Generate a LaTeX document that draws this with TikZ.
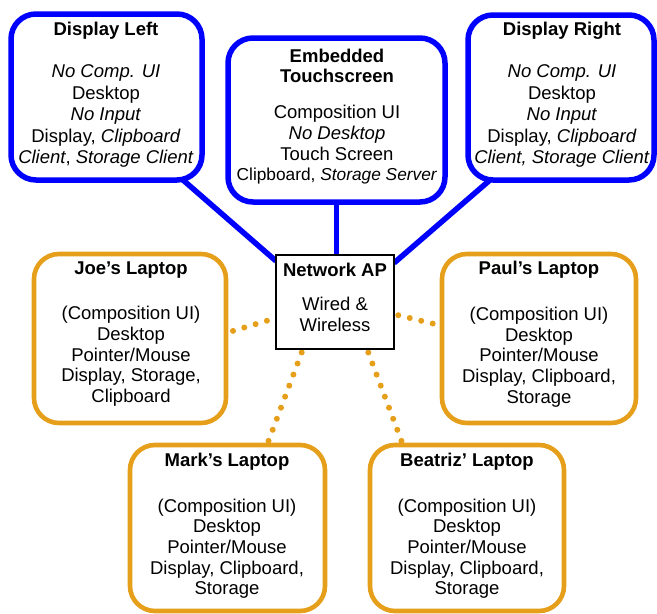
\documentclass[tikz,border=0pt]{standalone}
\usepackage{fontspec}
\setmainfont{Liberation Sans}
\usetikzlibrary{calc}
\definecolor{dblue}{RGB}{0,0,255}
\definecolor{lorange}{RGB}{230,159,27}
\pgfdeclarelayer{background}
\pgfsetlayers{background,main}
\begin{document}
\begin{tikzpicture}[x=1pt,y=-1pt,
  bluebox/.style={draw=dblue, line width=5.5pt, rounded corners=25pt, fill=white, inner sep=0pt, outer sep=0pt},
  orangebox/.style={draw=lorange, line width=4.6pt, rounded corners=25pt, fill=white, inner sep=0pt, outer sep=0pt},
  apbox/.style={draw=black, line width=2pt, fill=white, inner sep=0pt, outer sep=0pt},
  blueline/.style={draw=dblue, line width=5.5pt},
  dotline/.style={draw=lorange, line width=6pt, line cap=round, dash pattern=on 0pt off 11.8pt},
  txt/.style={anchor=north, align=center, inner sep=0pt, font=\fontsize{18.5}{21.5}\selectfont},
]
\useasboundingbox (0,0) rectangle (657,614);

% boxes
\node[bluebox, minimum width=191pt, minimum height=166pt] (dl) at (106.5,97) {};
\node[bluebox, minimum width=217pt, minimum height=164pt] (et) at (336.5,120) {};
\node[bluebox, minimum width=186pt, minimum height=165pt] (dr) at (561,97.5) {};
\node[apbox, minimum width=118pt, minimum height=94pt] (ap) at (335,302) {};
\node[orangebox, minimum width=192pt, minimum height=169pt] (joe) at (130,338.5) {};
\node[orangebox, minimum width=194pt, minimum height=169pt] (paul) at (539,338.5) {};
\node[orangebox, minimum width=195pt, minimum height=166pt] (mark) at (227.5,528) {};
\node[orangebox, minimum width=194pt, minimum height=166pt] (bea) at (467,528) {};

% texts
\node[txt] (dlt) at (106,21.8) {\textbf{Display Left}\\[20.8pt]
  \textit{No Comp. UI}\\ Desktop\\ \textit{No Input}\\ Display, \textit{Clipboard}\\
  \textit{Client}, \textit{Storage Client}};
\node[txt, font=\fontsize{18.5}{20.8}\selectfont] (ett) at (337,48.5) {\textbf{Embedded}\\ \textbf{Touchscreen}\\[14.8pt]
  Composition UI\\ \textit{No Desktop}\\ Touch Screen\\
  {\fontsize{17.3}{20.8}\selectfont Clipboard, \textit{Storage Server}}};
\node[txt] (drt) at (562,21.8) {\textbf{Display Right}\\[20.8pt]
  \textit{No Comp. UI}\\ Desktop\\ \textit{No Input}\\ Display, \textit{Clipboard}\\
  \textit{Client, Storage Client}};
\node[txt, font=\fontsize{18.5}{20.7}\selectfont] (apt) at (335,262.8) {\textbf{Network AP}\\[13.3pt] Wired \&\\ Wireless};
\node[txt, font=\fontsize{18.5}{20.7}\selectfont] (joet) at (131,261.1) {\textbf{Joe’s Laptop}\\[25pt]
  (Composition UI)\\ Desktop\\ Pointer/Mouse\\ Display, Storage,\\ Clipboard};
\node[txt, font=\fontsize{18.5}{20.7}\selectfont] (pault) at (539,261.1) {\textbf{Paul’s Laptop}\\[25pt]
  (Composition UI)\\ Desktop\\ Pointer/Mouse\\ Display, Clipboard,\\ Storage};
\node[txt, font=\fontsize{18.5}{20.7}\selectfont] (markt) at (227,452.8) {\textbf{Mark’s Laptop}\\[25pt]
  (Composition UI)\\ Desktop\\ Pointer/Mouse\\ Display, Clipboard,\\ Storage};
\node[txt, font=\fontsize{18.5}{20.7}\selectfont] (beat) at (467,452.8) {\textbf{Beatriz’ Laptop}\\[25pt]
  (Composition UI)\\ Desktop\\ Pointer/Mouse\\ Display, Clipboard,\\ Storage};

% connectors
\begin{pgfonlayer}{background}
\draw[blueline] ($(dl.south east)+(-19,0)$) -- ($(ap.north west)+(0,6)$);
\draw[blueline] (et.south) -- (et.south |- ap.north);
\draw[blueline] ($(ap.north east)+(0,8)$) -- ($(dr.south west)+(22,0)$);
\draw[dotline, shorten <=9.5pt, shorten >=5.5pt] ($(ap.west)+(0,16)$) -- ($(joe.east)+(0,-5.5)$);
\draw[dotline, shorten <=4.4pt, shorten >=8.6pt] ($(ap.east)+(0,12.2)$) -- ($(paul.west)+(0,-12.7)$);
\draw[dotline, shorten <=3.7pt, shorten >=3pt] ($(ap.south)+(-32,0)$) -- ($(mark.north)+(39.5,0)$);
\draw[dotline, shorten <=3.7pt, shorten >=3pt] ($(ap.south)+(32,0)$) -- ($(bea.north)+(-64,0)$);
\end{pgfonlayer}
\end{tikzpicture}
\end{document}
